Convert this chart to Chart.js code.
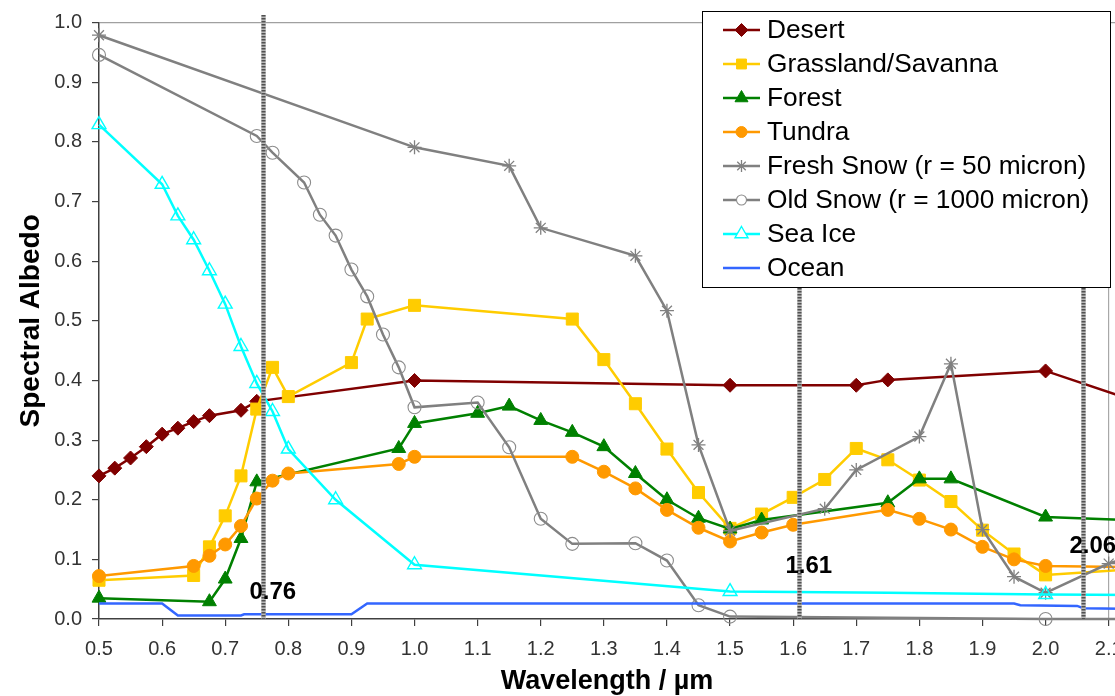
<!DOCTYPE html>
<html>
<head>
<meta charset="utf-8">
<script src="https://cdn.jsdelivr.net/npm/chart.js@4.4.1/dist/chart.umd.min.js"></script>
<style>
html, body { margin: 0; padding: 0; background: #ffffff; overflow: hidden; width: 1115px; height: 696px; }
canvas { display: block; }
</style>
</head>
<body>
<canvas id="c" width="1140" height="696"></canvas>
<script>
// ---------- tick labels ----------
const xTickLabels = ['0.5','0.6','0.7','0.8','0.9','1.0','1.1','1.2','1.3','1.4','1.5','1.6','1.7','1.8','1.9','2.0','2.1'];
const yTickLabels = ['0.0','0.1','0.2','0.3','0.4','0.5','0.6','0.7','0.8','0.9','1.0'];

// ---------- series (wavelength in µm, spectral albedo) ----------
const desertX = [0.5,0.525,0.55,0.575,0.6,0.625,0.65,0.675,0.725,0.75,1.0,1.5,1.7,1.75,2.0,2.2];
const desertY = [0.240,0.253,0.270,0.289,0.310,0.320,0.331,0.341,0.350,0.365,0.400,0.392,0.392,0.401,0.416,0.345];

const grassX = [0.5,0.65,0.675,0.7,0.725,0.75,0.775,0.8,0.9,0.925,1.0,1.25,1.3,1.35,1.4,1.45,1.5,1.55,1.6,1.65,1.7,1.75,1.8,1.85,1.9,1.95,2.0,2.2];
const grassY = [0.065,0.073,0.121,0.173,0.240,0.352,0.422,0.373,0.430,0.503,0.526,0.503,0.435,0.361,0.285,0.212,0.152,0.176,0.204,0.234,0.286,0.267,0.233,0.197,0.149,0.109,0.074,0.088];

const forestX = [0.5,0.675,0.7,0.725,0.75,0.975,1.0,1.1,1.15,1.2,1.25,1.3,1.35,1.4,1.45,1.5,1.55,1.75,1.8,1.85,2.0,2.2];
const forestY = [0.035,0.029,0.067,0.135,0.230,0.286,0.328,0.345,0.357,0.333,0.313,0.289,0.244,0.200,0.169,0.151,0.166,0.195,0.235,0.235,0.171,0.163];

const tundraX = [0.5,0.65,0.675,0.7,0.725,0.75,0.775,0.8,0.975,1.0,1.25,1.3,1.35,1.4,1.45,1.5,1.55,1.6,1.75,1.8,1.85,1.9,1.95,2.0,2.2];
const tundraY = [0.072,0.089,0.106,0.125,0.156,0.202,0.232,0.244,0.260,0.272,0.272,0.247,0.219,0.183,0.153,0.130,0.145,0.158,0.183,0.168,0.150,0.121,0.100,0.089,0.086];

const freshX = [0.5,1.0,1.15,1.2,1.35,1.4,1.45,1.5,1.65,1.7,1.8,1.85,1.9,1.95,2.0,2.1,2.2];
const freshY = [0.979,0.791,0.760,0.656,0.609,0.517,0.292,0.148,0.185,0.250,0.306,0.428,0.150,0.071,0.044,0.093,0.125];

const oldX = [0.5,0.75,0.775,0.825,0.85,0.875,0.9,0.925,0.95,0.975,1.0,1.1,1.15,1.2,1.25,1.35,1.4,1.45,1.5,2.0,2.2];
const oldY = [0.946,0.810,0.782,0.732,0.678,0.643,0.586,0.541,0.477,0.422,0.355,0.363,0.288,0.168,0.126,0.127,0.098,0.023,0.004,0.0,0.0];

const seaIceX = [0.5,0.6,0.625,0.65,0.675,0.7,0.725,0.75,0.775,0.8,0.875,1.0,1.5,1.75,2.0,2.2];
const seaIceY = [0.829,0.729,0.676,0.636,0.584,0.528,0.457,0.395,0.348,0.285,0.200,0.091,0.046,0.044,0.041,0.040];
const seaIceMarked = [1,1,1,1,1,1,1,1,1,1,1,1,1,0,1,0];

const oceanX = [0.5,0.6,0.625,0.725,0.73,0.9,0.925,1.95,1.96,2.05,2.06,2.2];
const oceanY = [0.026,0.026,0.006,0.006,0.008,0.008,0.026,0.026,0.023,0.022,0.018,0.016];

// reference wavelengths marked with vertical lines
const refLines = [0.76, 1.61, 2.06];
const refLabels = ['0.76', '1.61', '2.06'];

const xTickValues = xTickLabels.map(Number);
const yTickValues = yTickLabels.map(Number);
const X_MIN = 0.5, X_MAX = 2.11;

function pts(xs, ys) { return xs.map((x, i) => ({ x: x, y: ys[i] })); }

const FAMILY = "'Liberation Sans', Arial, Helvetica, sans-serif";
const CLEAR = 'rgba(0,0,0,0)';

const datasets = [
  { label: 'Desert', data: pts(desertX, desertY), borderColor: '#800000', backgroundColor: '#800000',
    pointStyle: 'rectRot', pointRadius: 7, pointBorderWidth: 1, borderWidth: 2.5, order: 8 },
  { label: 'Grassland/Savanna', data: pts(grassX, grassY), borderColor: '#FFCC00', backgroundColor: '#FFCC00',
    pointStyle: 'rect', pointRadius: 8.5, pointBorderWidth: 1, borderWidth: 2.5, order: 7 },
  { label: 'Forest', data: pts(forestX, forestY), borderColor: '#008000', backgroundColor: '#008000',
    pointStyle: 'triangle', pointRadius: 8, pointBorderWidth: 1, borderWidth: 2.5, order: 6 },
  { label: 'Tundra', data: pts(tundraX, tundraY), borderColor: '#FF9900', backgroundColor: '#FF9900',
    pointStyle: 'circle', pointRadius: 6.5, pointBorderWidth: 1, borderWidth: 2.5, order: 5 },
  { label: 'Fresh Snow (r = 50 micron)', data: pts(freshX, freshY), borderColor: '#808080', backgroundColor: CLEAR,
    pointBorderColor: '#808080', pointStyle: 'star', pointRadius: 7, pointBorderWidth: 1.3, borderWidth: 2.5, order: 4 },
  { label: 'Old Snow (r = 1000 micron)', data: pts(oldX, oldY), borderColor: '#808080', backgroundColor: CLEAR,
    pointBorderColor: '#8c8c8c', pointStyle: 'circle', pointRadius: 6.5, pointBorderWidth: 1.1, borderWidth: 2.5, order: 3 },
  { label: 'Sea Ice', data: pts(seaIceX, seaIceY), borderColor: '#00FFFF', backgroundColor: CLEAR,
    pointBorderColor: '#00FFFF', pointStyle: 'triangle', pointRadius: seaIceMarked.map(m => m ? 8 : 0),
    pointBorderWidth: 1.4, borderWidth: 2.5, order: 2 },
  { label: 'Ocean', data: pts(oceanX, oceanY), borderColor: '#3366FF', backgroundColor: '#3366FF',
    pointRadius: 0, borderWidth: 2.5, order: 1 }
];
datasets.forEach(d => { d.showLine = true; d.tension = 0; d.clip = false; d.fill = false; });

// draw a legend marker
function drawMarker(ctx, style, x, y, r, fill, stroke, lw) {
  ctx.save();
  ctx.beginPath();
  ctx.lineWidth = lw;
  ctx.strokeStyle = stroke;
  ctx.fillStyle = fill;
  if (style === 'rectRot') {
    ctx.moveTo(x - r, y); ctx.lineTo(x, y - r); ctx.lineTo(x + r, y); ctx.lineTo(x, y + r); ctx.closePath();
  } else if (style === 'rect') {
    const s = r * Math.SQRT1_2;
    ctx.rect(x - s, y - s, 2 * s, 2 * s);
  } else if (style === 'triangle') {
    ctx.moveTo(x, y - r);
    ctx.lineTo(x + r * 0.866, y + r / 2);
    ctx.lineTo(x - r * 0.866, y + r / 2);
    ctx.closePath();
  } else if (style === 'circle') {
    ctx.arc(x, y, r, 0, Math.PI * 2);
  } else if (style === 'star') {
    const d = r * Math.SQRT1_2;
    ctx.moveTo(x - r, y); ctx.lineTo(x + r, y);
    ctx.moveTo(x, y - r); ctx.lineTo(x, y + r);
    ctx.moveTo(x - d, y - d); ctx.lineTo(x + d, y + d);
    ctx.moveTo(x - d, y + d); ctx.lineTo(x + d, y - d);
    ctx.stroke(); ctx.restore(); return;
  }
  ctx.fill();
  if (lw > 0) ctx.stroke();
  ctx.restore();
}

const refLinePlugin = {
  id: 'refLines',
  afterDatasetsDraw(chart, args, opts) {
    const ctx = chart.ctx, xs = chart.scales.x, ys = chart.scales.y;
    ctx.save();
    refLines.forEach((v, i) => {
      const px = Math.round(xs.getPixelForValue(v)) + 0.5;
      const y0 = opts.topPx, y1 = ys.getPixelForValue(0);
      ctx.setLineDash([]);
      ctx.lineWidth = 4.5; ctx.strokeStyle = '#b8b8b8';
      ctx.beginPath(); ctx.moveTo(px, y0); ctx.lineTo(px, y1); ctx.stroke();
      ctx.setLineDash([1.5, 1.5]);
      ctx.lineWidth = 4;
      ctx.strokeStyle = '#505050';
      ctx.beginPath(); ctx.moveTo(px, y0); ctx.lineTo(px, y1); ctx.stroke();
      ctx.setLineDash([]);
      ctx.font = 'bold 24px ' + FAMILY;
      ctx.fillStyle = '#000';
      ctx.textAlign = 'left';
      ctx.textBaseline = 'middle';
      ctx.fillText(refLabels[i], px - opts.labelShift, ys.getPixelForValue(opts.labelY[i]));
    });
    ctx.restore();
  }
};

const boxLegendPlugin = {
  id: 'boxLegend',
  afterDraw(chart, args, o) {
    const ctx = chart.ctx;
    ctx.save();
    ctx.fillStyle = '#ffffff';
    ctx.fillRect(o.left, o.top, o.width, o.height);
    ctx.strokeStyle = '#000000';
    ctx.lineWidth = 1;
    ctx.strokeRect(o.left + 0.5, o.top + 0.5, o.width, o.height);
    chart.data.datasets.forEach((ds, i) => {
      const y = o.firstRow + i * o.rowGap;
      ctx.setLineDash([]);
      ctx.lineWidth = 2.5;
      ctx.strokeStyle = ds.borderColor;
      ctx.beginPath(); ctx.moveTo(o.lineX0, y); ctx.lineTo(o.lineX1, y); ctx.stroke();
      const r = o.markerRadius[i];
      if (r > 0) {
        const fill = ds.backgroundColor === CLEAR ? '#ffffff' : ds.backgroundColor;
        const stroke = ds.pointBorderColor || ds.borderColor;
        drawMarker(ctx, ds.pointStyle, (o.lineX0 + o.lineX1) / 2, y, r, fill, stroke, ds.pointBorderWidth || 1);
      }
      ctx.fillStyle = '#000000';
      ctx.font = o.fontSize + 'px ' + FAMILY;
      ctx.textAlign = 'left';
      ctx.textBaseline = 'middle';
      ctx.fillText(ds.label, o.textX, y + 1);
    });
    ctx.restore();
  }
};

new Chart(document.getElementById('c'), {
  type: 'scatter',
  data: { datasets: datasets },
  plugins: [refLinePlugin, boxLegendPlugin],
  options: {
    responsive: false,
    animation: false,
    events: [],
    layout: { padding: { left: 0, right: 25, top: 22.7, bottom: 0 } },
    plugins: {
      legend: { display: false },
      tooltip: { enabled: false },
      refLines: { topPx: 15, labelShift: 14, labelY: [0.044, 0.089, 0.122] },
      boxLegend: { left: 702, top: 11, width: 408, height: 276, firstRow: 30, rowGap: 34,
        lineX0: 723, lineX1: 760, textX: 767, fontSize: 26.3,
        markerRadius: [6.5, 7, 7.5, 5.5, 6, 5, 7.5, 0] }
    },
    scales: {
      x: {
        type: 'linear', min: X_MIN, max: X_MAX, bounds: 'data',
        afterBuildTicks: s => { s.ticks = xTickValues.map(v => ({ value: v })); s.min = X_MIN; s.max = X_MAX; },
        afterFit: s => { s.height = 77; },
        ticks: { font: { family: FAMILY, size: 20 }, color: '#333333', padding: 11,
          autoSkip: false, maxRotation: 0, minRotation: 0,
          callback: (v, i) => xTickLabels[i] },
        grid: { color: c => (c.tick && Math.abs(c.tick.value - 2.1) < 1e-6) ? '#a8a8a8' : CLEAR,
          tickColor: '#404040', tickLength: 7, lineWidth: 1.2 },
        border: { color: '#404040', width: 1.5 },
        title: { display: true, text: 'Wavelength / µm', color: '#000000',
          font: { family: FAMILY, size: 27, weight: 'bold' }, padding: { top: 0, bottom: -2 } }
      },
      y: {
        type: 'linear', min: 0, max: 1, bounds: 'data',
        afterBuildTicks: s => { s.ticks = yTickValues.map(v => ({ value: v })); s.min = 0; s.max = 1; },
        afterFit: s => { s.width = 99; },
        ticks: { font: { family: FAMILY, size: 20 }, color: '#333333', padding: 10,
          callback: (v, i) => yTickLabels[i] },
        grid: { color: c => (c.tick && Math.abs(c.tick.value - 1) < 1e-6) ? '#a0a0a0' : CLEAR,
          tickColor: '#404040', tickLength: 7, lineWidth: 1.2 },
        border: { color: '#404040', width: 1.5 },
        title: { display: true, text: 'Spectral Albedo', color: '#000000',
          font: { family: FAMILY, size: 28, weight: 'bold' }, padding: { top: 14, bottom: 0 } }
      }
    }
  }
});
</script>
</body>
</html>
